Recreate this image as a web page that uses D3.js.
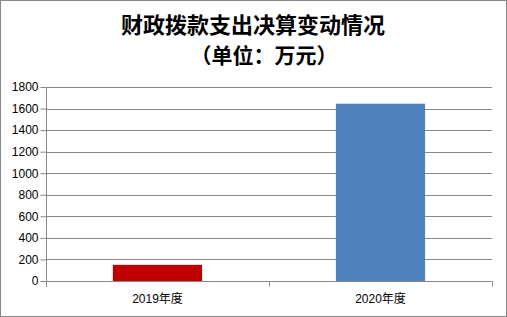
<!DOCTYPE html>
<html>
<head>
<meta charset="utf-8">
<script src="https://cdn.jsdelivr.net/npm/d3@7"></script>
<style>
  body { margin: 0; background: #fff; }
  svg { display: block; }
</style>
</head>
<body>
<div id="viz"></div>
<script>
const categories = ["2019年度", "2020年度"];
const values = [150, 1645];
const barColors = ["#c00000", "#4f81bd"];
const yTicks = [0, 200, 400, 600, 800, 1000, 1200, 1400, 1600, 1800];

const width = 507, height = 317;
const margin = { top: 87, right: 15, bottom: 36, left: 46 };

const svg = d3.select("#viz")
  .append("svg")
  .attr("width", width)
  .attr("height", height);

svg.append("rect")
  .attr("x", 0.5).attr("y", 0.5)
  .attr("width", width - 1).attr("height", height - 1)
  .attr("fill", "#fff").attr("stroke", "#888");

// title
const title = svg.append("g")
  .attr("font-family", "'Noto Sans CJK SC', sans-serif")
  .attr("font-weight", "bold")
  .attr("font-size", 22)
  .attr("fill", "#000");
title.append("text").attr("x", 253).attr("y", 33).attr("text-anchor", "middle").text("财政拨款支出决算变动情况");
title.append("text").attr("x", 264).attr("y", 63).attr("font-size", 21).attr("text-anchor", "middle").text("（单位：万元）");

const x = d3.scaleBand().domain(categories)
  .range([margin.left, width - margin.right])
  .paddingInner(0.6).paddingOuter(0.3);
const y = d3.scaleLinear().domain([0, 1800])
  .range([height - margin.bottom, margin.top]);

// gridlines
svg.append("g").selectAll("line")
  .data(yTicks.slice(1))
  .enter().append("line")
  .attr("x1", margin.left).attr("x2", width - margin.right)
  .attr("y1", d => Math.round(y(d)) + 0.5).attr("y2", d => Math.round(y(d)) + 0.5)
  .attr("stroke", "#888");

// bars
svg.append("g").selectAll("rect")
  .data(values)
  .enter().append("rect")
  .attr("x", (d, i) => x(categories[i]))
  .attr("width", x.bandwidth())
  .attr("y", d => y(d))
  .attr("height", d => y(0) - y(d))
  .attr("fill", (d, i) => barColors[i]);

// y axis
const yAxis = svg.append("g")
  .attr("transform", `translate(${margin.left + 0.5},0)`)
  .call(d3.axisLeft(y).tickValues(yTicks).tickFormat(d3.format("d")).tickSize(6).tickPadding(2));
yAxis.select(".domain").attr("stroke", "#888").attr("d", `M0,${Math.round(y(1800)) + 0.5}V${y(0) + 6}`);
yAxis.selectAll(".tick line").attr("stroke", "#888");
yAxis.selectAll("text").attr("font-family", "'Liberation Sans', Arial, sans-serif").attr("font-size", 12).attr("fill", "#000");

// x axis
const xAxis = svg.append("g")
  .attr("transform", `translate(0,${Math.round(y(0)) + 0.5})`);
xAxis.append("line")
  .attr("x1", margin.left).attr("x2", width - margin.right)
  .attr("stroke", "#888");
const step = (width - margin.right - margin.left) / categories.length;
xAxis.selectAll(".sep")
  .data(d3.range(1, categories.length + 1))
  .enter().append("line")
  .attr("x1", d => Math.round(margin.left + d * step) + 0.5)
  .attr("x2", d => Math.round(margin.left + d * step) + 0.5)
  .attr("y1", 0).attr("y2", 5)
  .attr("stroke", "#888");
xAxis.selectAll("text")
  .data(categories)
  .enter().append("text")
  .attr("x", d => x(d) + x.bandwidth() / 2)
  .attr("y", 21)
  .attr("text-anchor", "middle")
  .attr("font-family", "'Liberation Sans', 'Noto Sans CJK SC', sans-serif")
  .attr("font-size", 12)
  .text(d => d);
</script>
</body>
</html>
